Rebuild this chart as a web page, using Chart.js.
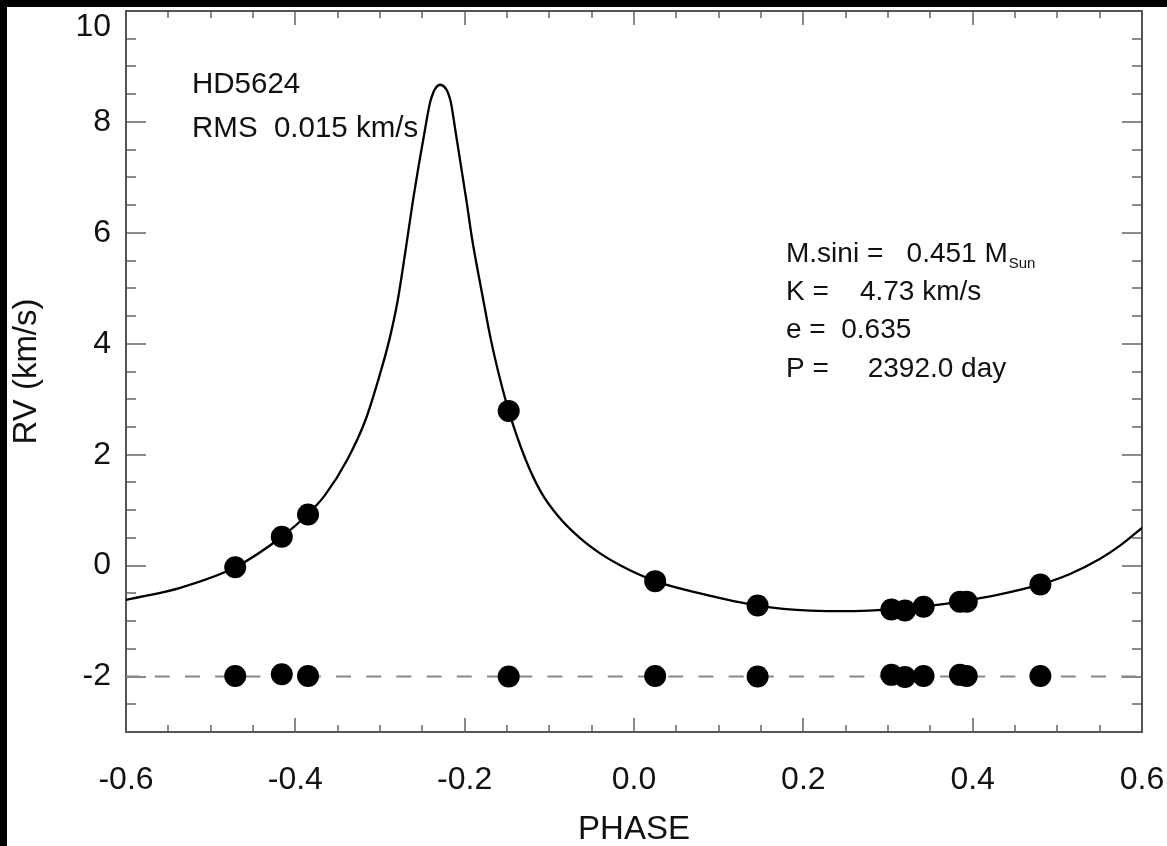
<!DOCTYPE html>
<html>
<head>
<meta charset="utf-8">
<script src="https://cdn.jsdelivr.net/npm/chart.js@4.4.1/dist/chart.umd.min.js"></script>
<style>
html,body{margin:0;padding:0;background:#fff;width:1167px;height:846px;overflow:hidden;}
#c{position:absolute;left:0;top:0;}
#topbar{position:absolute;left:0;top:0;width:1167px;height:7px;background:#000;}
#leftbar{position:absolute;left:0;top:0;width:7px;height:846px;background:#000;}
</style>
</head>
<body>
<canvas id="c" width="1167" height="846"></canvas>
<div id="topbar"></div><div id="leftbar"></div>
<script>
// ---- data ----
const obsPhase = [-0.471, -0.416, -0.385, -0.148, 0.025, 0.146, 0.304, 0.320, 0.342, 0.385, 0.393, 0.480];
const obsRV    = [-0.03, 0.52, 0.92, 2.79, -0.28, -0.72, -0.79, -0.81, -0.74, -0.65, -0.65, -0.34];
const residRV  = [-1.99, -1.96, -1.99, -2.00, -1.99, -2.00, -1.97, -2.01, -1.99, -1.97, -1.99, -1.99];

const fitPhase = [-0.600, -0.536, -0.471, -0.416, -0.385, -0.365, -0.339, -0.317, -0.302, -0.289, -0.279, -0.268, -0.261, -0.247, -0.240, -0.229,
                  -0.217, -0.211, -0.198, -0.191, -0.178, -0.169, -0.158, -0.148, -0.129, -0.110, -0.090, -0.064, -0.040, -0.017,
                  0.025, 0.078, 0.146, 0.208, 0.255, 0.291, 0.320, 0.343, 0.389, 0.432, 0.480, 0.515, 0.550, 0.574, 0.600];
const fitRV    = [-0.62, -0.40, -0.03, 0.52, 0.93, 1.27, 1.90, 2.63, 3.35, 4.07, 4.79, 5.87, 6.59, 7.85, 8.40, 8.67,
                  8.40, 7.85, 6.59, 5.87, 4.79, 4.07, 3.35, 2.79, 1.95, 1.33, 0.90, 0.50, 0.22, 0.01,
                  -0.28, -0.50, -0.72, -0.81, -0.82, -0.80, -0.77, -0.735, -0.64, -0.52, -0.34, -0.15, 0.12, 0.36, 0.68];

const baselinePhase = [-0.6, 0.6];
const baselineRV    = [-2, -2];

const xTickValues = [-0.6, -0.4, -0.2, 0.0, 0.2, 0.4, 0.6];
const xTickLabels = ['-0.6', '-0.4', '-0.2', '0.0', '0.2', '0.4', '0.6'];
const yTickValues = [-2, 0, 2, 4, 6, 8, 10];
const yTickLabels = ['-2', '0', '2', '4', '6', '8', '10'];

const xTitle = 'PHASE';
const yTitle = 'RV (km/s)';
const leftNotes = ['HD5624', 'RMS  0.015 km/s'];
const rightNotes = ['M.sini =   0.451 M', 'K =    4.73 km/s', 'e =  0.635', 'P =     2392.0 day'];
const massSubscript = 'Sun';

// ---- chart ----
const FONT = "'Liberation Sans', Arial, Helvetica, sans-serif";
Chart.defaults.font.family = FONT;
Chart.defaults.color = '#111';

const pts = (xs, ys) => xs.map((x, i) => ({x: x, y: ys[i]}));

const framePlugin = {
  id: 'frame',
  beforeDatasetsDraw(chart) {
    const {ctx, chartArea: a, scales: {x, y}} = chart;
    ctx.save();
    ctx.strokeStyle = '#8a8a8a';
    ctx.lineWidth = 2;
    ctx.beginPath();
    for (let k = 0; k <= 24; k++) {
      const v = -0.6 + k * 0.05;
      const major = (k % 4 === 0);
      const len = major ? 14 : 7;
      const px = Math.round(x.getPixelForValue(v));
      ctx.moveTo(px, a.bottom); ctx.lineTo(px, a.bottom - len);
      ctx.moveTo(px, a.top); ctx.lineTo(px, a.top + len);
    }
    for (let k = 0; k <= 26; k++) {
      const v = -3 + k * 0.5;
      const major = (Math.abs(v % 2) < 1e-9);
      const len = major ? 20 : 10;
      const py = Math.round(y.getPixelForValue(v));
      ctx.moveTo(a.left, py); ctx.lineTo(a.left + len, py);
      ctx.moveTo(a.right, py); ctx.lineTo(a.right - len, py);
    }
    ctx.stroke();
    ctx.strokeStyle = '#555';
    ctx.lineWidth = 2;
    ctx.strokeRect(a.left, a.top, a.right - a.left, a.bottom - a.top);
    ctx.restore();
  },
  afterDraw(chart) {
    const {ctx} = chart;
    ctx.save();
    ctx.fillStyle = '#111';
    ctx.textBaseline = 'alphabetic';
    ctx.textAlign = 'left';
    ctx.font = '29.5px ' + FONT;
    ctx.fillText(leftNotes[0], 192, 93);
    ctx.fillText(leftNotes[1], 192, 137);
    ctx.font = '28px ' + FONT;
    const rBase = [262, 300, 338, 377];
    rightNotes.forEach((t, i) => ctx.fillText(t, 786, rBase[i]));
    const w = ctx.measureText(rightNotes[0]).width;
    ctx.font = '15px ' + FONT;
    ctx.fillText(massSubscript, 786 + w + 1, rBase[0] + 6);
    ctx.restore();
  }
};

new Chart(document.getElementById('c'), {
  type: 'scatter',
  data: {
    datasets: [
      {
        label: 'fit', data: pts(fitPhase, fitRV), showLine: true,
        borderColor: '#000', borderWidth: 2.3, pointRadius: 0,
        cubicInterpolationMode: 'monotone', order: 3
      },
      {
        label: 'baseline', data: pts(baselinePhase, baselineRV), showLine: true,
        borderColor: '#888', borderWidth: 2, borderDash: [15, 15.2], borderDashOffset: 1.4,
        pointRadius: 0, order: 4
      },
      {
        label: 'obs', data: pts(obsPhase, obsRV), showLine: false,
        pointRadius: 11, pointBackgroundColor: '#000', pointBorderWidth: 0, order: 1
      },
      {
        label: 'resid', data: pts(obsPhase, residRV), showLine: false,
        pointRadius: 11, pointBackgroundColor: '#000', pointBorderWidth: 0, order: 2
      }
    ]
  },
  options: {
    responsive: false,
    animation: false,
    events: [],
    layout: {padding: {left: 0, top: 11, right: 25, bottom: 0}},
    plugins: {legend: {display: false}, tooltip: {enabled: false}},
    scales: {
      x: {
        type: 'linear', min: -0.6, max: 0.6,
        afterBuildTicks: s => { s.ticks = xTickValues.map(v => ({value: v})); },
        afterFit: s => { s.height = 114; s.paddingLeft = 0; s.paddingRight = 0; },
        ticks: {
          callback: (v, i) => xTickLabels[i],
          font: {size: 32, lineHeight: 1}, color: '#111', padding: 32,
          maxRotation: 0, autoSkip: false
        },
        grid: {display: false, drawTicks: false},
        border: {display: false},
        title: {display: true, text: xTitle, font: {size: 33, lineHeight: 1}, color: '#111', padding: {top: 0, bottom: 0}}
      },
      y: {
        type: 'linear', min: -3, max: 10,
        afterBuildTicks: s => { s.ticks = yTickValues.map(v => ({value: v})); },
        afterFit: s => { s.width = 126; s.paddingTop = 0; s.paddingBottom = 0; },
        ticks: {
          callback: (v, i) => (yTickValues[i] === 10 ? ['', yTickLabels[i]] : yTickLabels[i]),
          font: {size: 32, lineHeight: 1}, color: '#111', padding: 15, autoSkip: false
        },
        grid: {display: false, drawTicks: false},
        border: {display: false},
        title: {display: true, text: yTitle, font: {size: 33, lineHeight: 1}, color: '#111', padding: {top: 10, bottom: 0}}
      }
    }
  },
  plugins: [framePlugin]
});
</script>
</body>
</html>
